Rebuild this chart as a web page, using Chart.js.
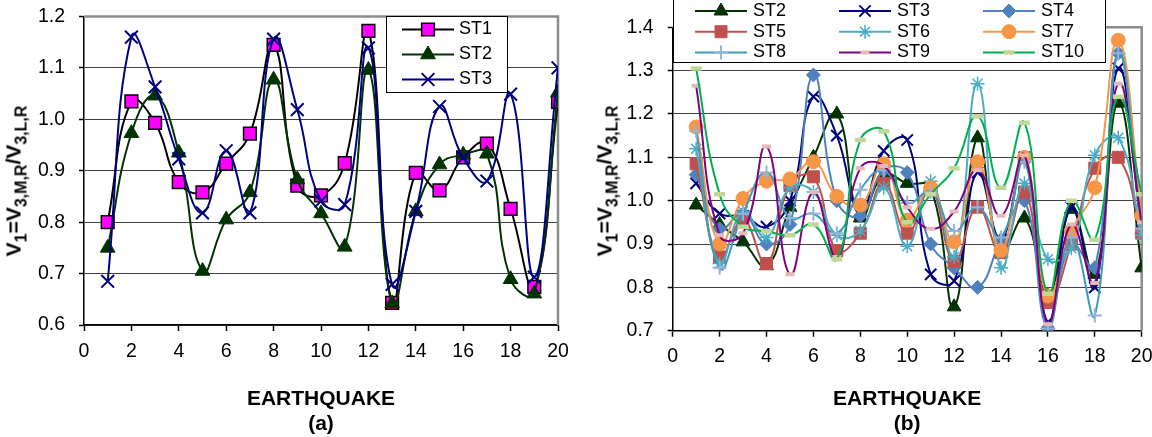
<!DOCTYPE html>
<html>
<head>
<meta charset="utf-8">
<script src="https://cdn.jsdelivr.net/npm/chart.js@4.4.1/dist/chart.umd.min.js"></script>
<style>
  html, body { margin: 0; padding: 0; background: #fff; }
  body { width: 1152px; height: 437px; position: relative; overflow: hidden; font-family: "Liberation Sans", Arial, sans-serif; }
  canvas { position: absolute; top: 0; }
  .ytitle { position: absolute; font-weight: bold; font-size: 21px; line-height: 1; white-space: nowrap; color: #000;
            transform: translate(-50%, -50%) rotate(-90deg); }
  .ytitle sub { font-size: 16px; vertical-align: baseline; position: relative; top: 0.35em; }
</style>
</head>
<body>
<canvas id="chartA" width="576" height="437" style="left:0"></canvas>
<canvas id="chartB" width="576" height="437" style="left:576px"></canvas>
<div class="ytitle" style="left:13px; top:181px">V<sub>1</sub>=V<sub>3,M,R</sub>/V<sub>3,L,R</sub></div>
<div class="ytitle" style="left:604px; top:181px">V<sub>1</sub>=V<sub>3,M,R</sub>/V<sub>3,L,R</sub></div>
<script>
// earthquake number 1..20
const quakes = [1, 2, 3, 4, 5, 6, 7, 8, 9, 10, 11, 12, 13, 14, 15, 16, 17, 18, 19, 20];

// panel (a)
const st1A = [0.80, 1.035, 0.993, 0.878, 0.858, 0.914, 0.972, 1.145, 0.871, 0.852, 0.915, 1.172, 0.643, 0.896, 0.862, 0.926, 0.953, 0.826, 0.674, 1.034];
const st2A = [0.75, 0.973, 1.046, 0.935, 0.705, 0.805, 0.858, 1.077, 0.883, 0.817, 0.752, 1.096, 0.642, 0.821, 0.912, 0.931, 0.933, 0.689, 0.661, 1.052];
const st3A = [0.685, 1.16, 1.063, 0.923, 0.818, 0.939, 0.818, 1.156, 1.019, 0.841, 0.834, 1.139, 0.679, 0.821, 1.025, 0.925, 0.88, 1.049, 0.693, 1.10];

// panel (b)
const st2B = [0.99, 0.945, 0.905, 0.85, 0.985, 1.10, 1.20, 0.96, 1.06, 1.04, 1.03, 0.755, 1.145, 0.88, 0.96, 0.78, 0.98, 0.83, 1.225, 0.845];
const st3B = [1.04, 0.97, 0.965, 0.94, 1.0, 1.24, 1.15, 0.97, 1.115, 1.14, 0.83, 0.815, 1.065, 0.91, 1.10, 0.72, 0.985, 0.80, 1.305, 0.93];
const st4B = [1.06, 0.935, 0.97, 0.90, 0.945, 1.29, 1.0, 0.965, 1.07, 1.065, 0.90, 0.845, 0.80, 0.91, 1.0, 0.705, 0.90, 0.845, 1.34, 0.925];
const st5B = [1.085, 0.87, 0.955, 0.855, 1.035, 1.055, 0.885, 0.925, 1.04, 0.925, 1.025, 0.86, 0.985, 0.88, 1.02, 0.765, 0.90, 1.075, 1.10, 0.925];
const st6B = [1.12, 0.855, 0.975, 0.915, 1.03, 1.02, 0.92, 0.93, 1.03, 0.895, 1.045, 0.87, 1.27, 0.845, 1.04, 0.865, 0.89, 1.105, 1.145, 0.92];
const st7B = [1.17, 0.90, 1.005, 1.045, 1.05, 1.09, 1.01, 0.99, 1.085, 0.955, 1.03, 0.905, 1.09, 0.885, 1.10, 0.78, 0.93, 1.03, 1.37, 0.965];
const st8B = [1.16, 0.845, 0.97, 1.065, 0.96, 0.97, 0.925, 1.025, 1.07, 0.995, 1.02, 0.93, 0.985, 0.915, 1.09, 0.705, 0.915, 0.735, 1.34, 0.935];
const st9B = [1.265, 0.92, 0.925, 1.125, 0.83, 1.02, 0.87, 1.075, 1.08, 0.985, 0.935, 0.975, 1.07, 0.965, 1.105, 0.715, 0.945, 0.81, 1.27, 0.95];
const st10B = [1.305, 1.015, 0.94, 0.93, 0.92, 0.945, 0.865, 1.14, 1.16, 0.95, 1.015, 1.075, 1.195, 1.03, 1.18, 0.785, 1.0, 0.91, 1.24, 1.015];

const FONT = '"Liberation Sans", Arial, sans-serif';
Chart.defaults.font.family = FONT;
Chart.defaults.color = '#000';

function pts(vals) {
  return quakes.map((q, i) => ({ x: q, y: vals[i] }));
}

function series(label, vals, line, style, fill, edge, radius, pbw, order) {
  return {
    label: label,
    data: pts(vals),
    borderColor: line,
    backgroundColor: fill,
    borderWidth: 2,
    tension: 0.45,
    fill: false,
    pointStyle: style,
    pointRadius: radius,
    pointBackgroundColor: fill,
    pointBorderColor: edge,
    pointBorderWidth: pbw,
    order: order
  };
}

// gray top/right frame of the plot area
const frame = {
  id: 'frame',
  beforeDatasetsDraw(chart) {
    const { ctx, chartArea: a } = chart;
    ctx.save();
    ctx.strokeStyle = '#8c8c8c';
    ctx.lineWidth = 2.5;
    ctx.beginPath();
    ctx.moveTo(a.left, a.top);
    ctx.lineTo(a.right, a.top);
    ctx.lineTo(a.right, a.bottom);
    ctx.stroke();
    ctx.restore();
  }
};

// excel style legend: line with marker in a box
const boxLegend = {
  id: 'boxLegend',
  afterDraw(chart, args, o) {
    const ctx = chart.ctx;
    const [l, t, r, b] = o.box;
    ctx.save();
    ctx.fillStyle = '#fff';
    ctx.fillRect(l, t, r - l, b - t);
    ctx.strokeStyle = '#000';
    ctx.lineWidth = 1;
    ctx.strokeRect(l + 0.5, t + 0.5, r - l, b - t);
    const sets = chart.data.datasets;
    o.items.forEach((idx, k) => {
      const ds = sets[idx];
      const col = k % o.cols, row = Math.floor(k / o.cols);
      const x0 = o.x0 + col * o.colStep;
      const y = o.y0 + row * o.rowStep;
      ctx.strokeStyle = ds.borderColor;
      ctx.lineWidth = ds.borderWidth;
      ctx.beginPath();
      ctx.moveTo(x0, y);
      ctx.lineTo(x0 + o.lineLen, y);
      ctx.stroke();
      ctx.fillStyle = ds.pointBackgroundColor;
      ctx.strokeStyle = ds.pointBorderColor;
      ctx.lineWidth = ds.pointBorderWidth;
      Chart.helpers.drawPoint(ctx, {
        pointStyle: ds.pointStyle, rotation: 0,
        radius: ds.pointRadius, borderWidth: ds.pointBorderWidth
      }, x0 + o.lineLen / 2, y);
      ctx.fillStyle = '#000';
      ctx.font = '18px ' + FONT;
      ctx.textBaseline = 'middle';
      ctx.textAlign = 'left';
      ctx.fillText(ds.label, x0 + o.lineLen + o.gap, y);
    });
    ctx.restore();
  }
};

function makeScales(yMin, yMax, yWidth, xHeight, xPad, yPad, caption) {
  return {
    x: {
      type: 'linear',
      min: 0,
      max: 20,
      ticks: { stepSize: 2, font: { size: 19.5 }, padding: xPad, maxRotation: 0, autoSkip: false },
      grid: { drawOnChartArea: false, drawTicks: true, tickLength: 6, tickColor: '#000', tickWidth: 1.5 },
      border: { color: '#000', width: 1.5 },
      title: { display: true, text: ['EARTHQUAKE', caption], font: { size: 21, weight: 'bold' }, padding: 0 },
      afterFit(s) { s.height = xHeight; s.paddingLeft = 0; s.paddingRight = 0; }
    },
    y: {
      min: yMin,
      max: yMax,
      ticks: { stepSize: 0.1, font: { size: 19.5 }, padding: yPad, callback: v => v.toFixed(1) },
      grid: { color: '#404040', lineWidth: 1, tickLength: 5, tickColor: '#000', tickWidth: 1.5 },
      border: { color: '#000', width: 1.5 },
      afterFit(s) { s.width = yWidth; s.paddingTop = 0; s.paddingBottom = 0; }
    }
  };
}

new Chart(document.getElementById('chartA'), {
  type: 'line',
  data: {
    datasets: [
      series('ST1', st1A, '#000000', 'rect', '#FF00FF', '#000000', 9, 1.5, 3),
      series('ST2', st2A, '#003300', 'triangle', '#003300', '#003300', 8.5, 1, 2),
      series('ST3', st3A, '#000080', 'crossRot', '#000080', '#000080', 9, 2, 1)
    ]
  },
  options: {
    responsive: false,
    animation: false,
    devicePixelRatio: 1,
    events: [],
    layout: { padding: { left: 0, right: 18, top: 16.5, bottom: 0 } },
    scales: makeScales(0.6, 1.2, 84, 112, 9, 14, '(a)'),
    plugins: {
      legend: { display: false },
      tooltip: { enabled: false },
      boxLegend: { box: [386, 16, 507, 92], items: [0, 1, 2], cols: 1, x0: 402, y0: 29.5, colStep: 0, rowStep: 25, lineLen: 52, gap: 5 }
    }
  },
  plugins: [frame, boxLegend]
});

new Chart(document.getElementById('chartB'), {
  type: 'line',
  data: {
    datasets: [
      series('ST2', st2B, '#003300', 'triangle', '#003300', '#003300', 8, 1, 9),
      series('ST3', st3B, '#000080', 'crossRot', '#000080', '#000080', 8, 2, 8),
      series('ST4', st4B, '#4F81BD', 'rectRot', '#4F81BD', '#4F81BD', 7, 1, 7),
      series('ST5', st5B, '#C0504D', 'rect', '#C0504D', '#C0504D', 8.5, 1, 6),
      series('ST6', st6B, '#4BACC6', 'star', '#4BACC6', '#4BACC6', 7, 1.5, 5),
      series('ST7', st7B, '#F79646', 'circle', '#F79646', '#F79646', 7, 1, 4),
      series('ST8', st8B, '#3E9AB8', 'cross', '#95B3D7', '#95B3D7', 7, 2, 3),
      series('ST9', st9B, '#800080', 'line', '#E6B9B8', '#E6B9B8', 4.5, 4, 2),
      series('ST10', st10B, '#00B050', 'line', '#C3D69B', '#C3D69B', 5.5, 4.5, 1)
    ]
  },
  options: {
    responsive: false,
    animation: false,
    devicePixelRatio: 1,
    events: [],
    layout: { padding: { left: 0, right: 10.3, top: 27.3, bottom: 0 } },
    scales: makeScales(0.7, 1.4, 96.7, 106.3, 8, 14, '(b)'),
    plugins: {
      legend: { display: false },
      tooltip: { enabled: false },
      boxLegend: { box: [97, -5, 529, 62], items: [0, 1, 2, 3, 4, 5, 6, 7, 8], cols: 3, x0: 119, y0: 11, colStep: 144, rowStep: 20.7, lineLen: 52, gap: 6 }
    }
  },
  plugins: [frame, boxLegend]
});
</script>
</body>
</html>
